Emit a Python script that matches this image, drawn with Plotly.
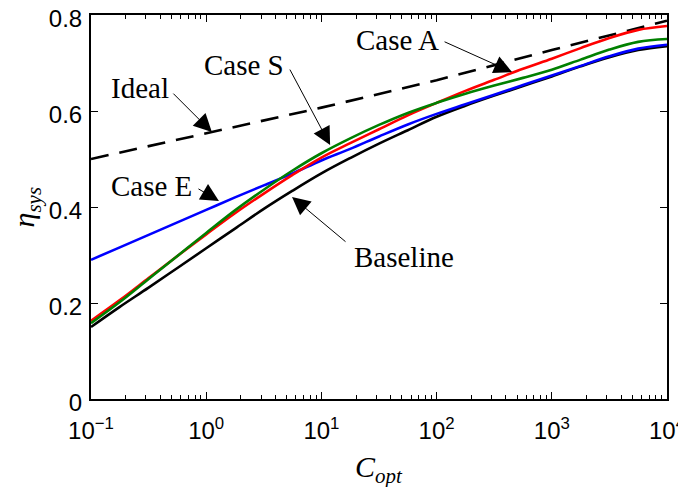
import math
import plotly.graph_objects as go

# exponents of C_opt (log10) where values were read
exponents = [-1, -0.75, -0.5, -0.25, 0, 0.25, 0.5, 0.75, 1, 1.25, 1.5, 1.75,
             2, 2.25, 2.5, 2.75, 3, 3.25, 3.5, 3.75, 4]
c_opt = [10 ** e for e in exponents]

baseline = [0.150, 0.192, 0.232, 0.273, 0.314, 0.355, 0.396, 0.434, 0.470, 0.502,
            0.532, 0.560, 0.588, 0.611, 0.632, 0.652, 0.672, 0.693, 0.712, 0.727, 0.735]
case_e = [0.290, 0.316, 0.342, 0.368, 0.394, 0.420, 0.445, 0.470, 0.497, 0.521,
          0.547, 0.572, 0.594, 0.614, 0.634, 0.654, 0.674, 0.694, 0.714, 0.730, 0.738]
case_a = [0.163, 0.206, 0.252, 0.298, 0.343, 0.387, 0.428, 0.467, 0.503, 0.533,
          0.562, 0.591, 0.617, 0.642, 0.665, 0.688, 0.709, 0.731, 0.752, 0.769, 0.777]
case_s = [0.158, 0.202, 0.250, 0.298, 0.346, 0.393, 0.436, 0.476, 0.512, 0.543,
          0.571, 0.596, 0.617, 0.636, 0.653, 0.669, 0.686, 0.707, 0.728, 0.744, 0.750]

ideal_x = [0.1, 1, 10, 100, 1000, 10000]
ideal_y = [0.500, 0.553, 0.607, 0.664, 0.727, 0.788]

x_tickvals = [0.1, 1, 10, 100, 1000, 10000]
x_ticktext = ["10<sup>\u22121</sup>", "10<sup>0</sup>", "10<sup>1</sup>",
              "10<sup>2</sup>", "10<sup>3</sup>", "10<sup>4</sup>"]
y_tickvals = [0, 0.2, 0.4, 0.6, 0.8]
y_ticktext = ["0", "0.2", "0.4", "0.6", "0.8"]

minor_vals = [m * 10 ** d for d in range(-1, 4) for m in range(2, 10)]

# annotation labels: (text, arrow tip x, tip y, tail offset px, label offset px)
labels = [
    ("Ideal", 1.12, 0.556, (-40, -40), (-72, -44)),
    ("Case S", 11.9, 0.529, (-41, -77), (-86, -80)),
    ("Case E", 1.29, 0.4125, (-22, -13), (-67, -15)),
    ("Baseline", 5.56, 0.421, (55, 46), (112, 60)),
    ("Case A", 452, 0.681, (-69, -31), (-115, -32)),
]

fig = go.Figure()
lw = 2.6
fig.add_trace(go.Scatter(x=ideal_x, y=ideal_y, mode="lines",
                         line=dict(color="black", width=lw, dash="18px,11px"), name="Ideal"))
fig.add_trace(go.Scatter(x=c_opt, y=baseline, mode="lines", line_shape="spline",
                         line=dict(color="black", width=lw), name="Baseline"))
fig.add_trace(go.Scatter(x=c_opt, y=case_e, mode="lines", line_shape="spline",
                         line=dict(color="#0000ff", width=lw), name="Case E"))
fig.add_trace(go.Scatter(x=c_opt, y=case_a, mode="lines", line_shape="spline",
                         line=dict(color="#ff0000", width=lw), name="Case A"))
fig.add_trace(go.Scatter(x=c_opt, y=case_s, mode="lines", line_shape="spline",
                         line=dict(color="#008000", width=lw), name="Case S"))

annotations = []
for text, tx, ty, (ax, ay), (lx, ly) in labels:
    lgx = math.log10(tx)
    annotations.append(dict(x=lgx, y=ty, xref="x", yref="y", text="", showarrow=True,
                            ax=ax, ay=ay, axref="pixel", ayref="pixel",
                            arrowhead=2, arrowsize=3.6, arrowwidth=1.0, arrowcolor="black"))
    annotations.append(dict(x=lgx, y=ty, xref="x", yref="y", text=text, showarrow=True,
                            ax=lx, ay=ly, arrowcolor="rgba(0,0,0,0)", arrowwidth=0.1,
                            font=dict(family="Liberation Serif", size=29, color="black")))

# axis titles
annotations.append(dict(x=0.5, y=-0.182, xref="paper", yref="paper", showarrow=False,
                        text="<i>C</i><sub><i>opt</i></sub>", xanchor="center", yanchor="middle",
                        font=dict(family="Liberation Serif", size=30, color="black")))
annotations.append(dict(x=-0.112, y=0.5, xref="paper", yref="paper", showarrow=False,
                        text="<i>\u03b7</i><sub><i>sys</i></sub>", textangle=-90,
                        xanchor="center", yanchor="middle",
                        font=dict(family="Liberation Serif", size=30, color="black")))

fig.update_layout(
    width=678, height=479,
    margin=dict(l=83, r=19, t=7, b=88),
    plot_bgcolor="white", paper_bgcolor="white",
    showlegend=False,
    annotations=annotations,
    font=dict(family="Liberation Sans", size=24, color="black"),
)
fig.update_xaxes(
    type="log", range=[-1, 4], tickmode="array", tickvals=x_tickvals, ticktext=x_ticktext,
    ticks="inside", ticklen=7, tickwidth=1, tickcolor="black", ticklabelstandoff=9,
    ticklabeloverflow="allow",
    showline=True, linecolor="black", linewidth=2, mirror="ticks",
    showgrid=False, zeroline=False, automargin=False,
    minor=dict(tickmode="array", tickvals=minor_vals, ticks="inside", ticklen=4,
               tickwidth=1, tickcolor="black", showgrid=False),
)
fig.update_yaxes(
    range=[0, 0.8], tickmode="array", tickvals=y_tickvals, ticktext=y_ticktext,
    ticks="inside", ticklen=7, tickwidth=1, tickcolor="black", ticklabelstandoff=2,
    ticklabelshift=4, ticklabeloverflow="allow",
    showline=True, linecolor="black", linewidth=2, mirror="ticks",
    showgrid=False, zeroline=False, automargin=False,
)

fig.write_html("out.html")
